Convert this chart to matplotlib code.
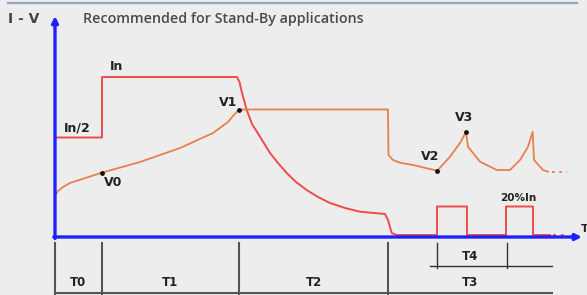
import matplotlib.pyplot as plt

# time axis: 0 at the origin, level axis: 0 on the time axis (units ~ px)
phase_edges = [0, 47, 184, 333]
phase_names = ['T0', 'T1', 'T2', 'T3']
phase_end = 497
t4_edges = [382, 452]

# current curve (In/2, In, decay, 20%In pulses)
cur_t = [0, 47, 47, 182, 184.5, 186.7, 191.7, 197, 205, 215, 223, 231.7, 241,
         251.7, 263, 275, 290, 305, 330, 333, 336.7, 341.7, 382, 382, 412, 412,
         451, 451, 478, 478, 495]
cur_v = [99.5, 99.5, 160, 160, 155, 145.3, 127, 113, 100.3, 84, 74, 64, 55,
         47, 40, 34, 29, 25.3, 23, 17, 4, 2, 2, 30.5, 30.5, 2, 2, 30.5, 30.5, 2, 2]

# voltage curve
volt_t = [0, 1, 3, 8, 15, 46.7, 85, 125, 158, 173, 178, 184, 333, 333.5, 338,
          345, 358, 382.3, 395, 405, 411, 413, 425, 441.7, 455, 465, 473, 477.7,
          479, 488, 493]
volt_v = [40, 43, 46, 50, 54, 64.3, 75, 89, 104, 115, 121, 127.5, 127.5, 82, 77,
          74.3, 72, 66.3, 80.3, 94, 105, 90.3, 75.3, 67, 67, 77, 90.3, 105.3,
          77, 67, 65.3]

marks_t = [46.7, 184, 382.3, 411]
marks_v = [64.3, 127.5, 66.3, 105]

labels = ['In', 'In/2', 'V1', 'V0', 'V2', 'V3', '20%In']
label_t = [62, 22.3, 173, 58, 375, 409, 463.3]
label_v = [170, 108.7, 134.3, 54.3, 80.3, 119.7, 38.7]
label_size = [9, 9, 9, 9, 9, 9, 7.5]

bg = '#ededed'
blue = '#1f1fff'
red = '#ef4b4b'
orange = '#e8804c'
grey = '#555555'

fig = plt.figure(figsize=(5.87, 2.95), dpi=100, facecolor=bg)
ax = fig.add_axes([0, 0, 1, 1])
ax.set_facecolor(bg)
ax.set_xlim(-55, 532)
ax.set_ylim(-58, 237)
ax.axis('off')

# header line and titles
ax.plot([-47, 522], [234, 234], color='#98a2c6', lw=1.6)
ax.text(-47, 218, 'I - V', fontsize=10, fontweight='bold', color='#444444', va='center')
ax.text(28, 218, 'Recommended for Stand-By applications', fontsize=10.3,
        fontfamily='Open Sans', fontweight='semibold', color='#4a4a4a', va='center')

# curves
ax.plot(cur_t, cur_v, color=red, lw=1.4, solid_joinstyle='round', zorder=3)
ax.plot([cur_t[-1] + 3, 512], [2, 2], color=red, lw=1.4, ls=(0, (1.5, 2.5)), zorder=3)
ax.plot(volt_t, volt_v, color=orange, lw=1.3, solid_joinstyle='round', zorder=3)
ax.plot([volt_t[-1] + 4, 512], [65.3, 65.3], color=orange, lw=1.3, ls=(0, (1.5, 2.5)), zorder=3)
ax.scatter(marks_t, marks_v, s=6, color='#111111', zorder=4)

for txt, x, y, fs in zip(labels, label_t, label_v, label_size):
    ax.text(x, y, txt, fontsize=fs, fontweight='bold', color='#222222',
            ha='center', va='center')

# axes
ax.annotate('', xy=(0, 221), xytext=(0, -1.5),
            arrowprops=dict(arrowstyle='-|>', color=blue, lw=2.4, mutation_scale=9,
                            shrinkA=0, shrinkB=0))
ax.annotate('', xy=(527, 0), xytext=(-1.2, 0),
            arrowprops=dict(arrowstyle='-|>', color=blue, lw=2.4, mutation_scale=9,
                            shrinkA=0, shrinkB=0))
ax.text(525.5, 8, 'T', fontsize=8, fontweight='bold', color='#222222', va='center')

# timing phases
for t in phase_edges:
    ax.plot([t, t], [-6, -58], color=grey, lw=1.5)
ax.plot([0, phase_end], [-56, -56], color=grey, lw=1.5)
mids = phase_edges + [phase_end]
for i, name in enumerate(phase_names):
    ax.text((mids[i] + mids[i + 1]) / 2, -45, name, fontsize=8.5, fontweight='bold',
            color='#222222', ha='center', va='center')

for t in t4_edges:
    ax.plot([t, t], [-6, -31], color='#333333', lw=1.0)
ax.plot([375, 497], [-29, -29], color='#333333', lw=1.0)
ax.text(sum(t4_edges) / 2 - 2, -19, 'T4', fontsize=8.5, fontweight='bold',
        color='#222222', ha='center', va='center')

fig.savefig('out.png', dpi=100, facecolor=bg)
